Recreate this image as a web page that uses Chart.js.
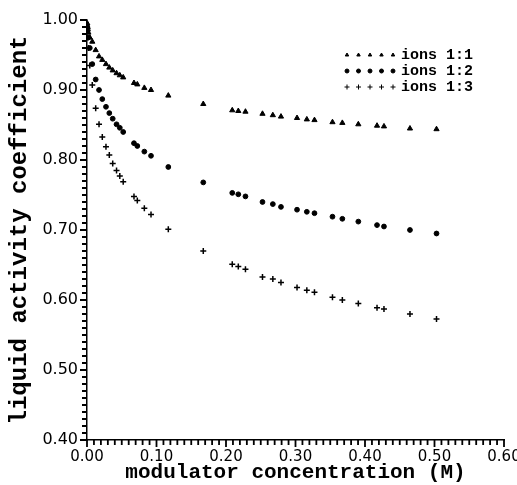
<!DOCTYPE html>
<html>
<head>
<meta charset="utf-8">
<script src="https://cdn.jsdelivr.net/npm/chart.js@4.4.1/dist/chart.umd.min.js"></script>
<style>
  html, body { margin: 0; padding: 0; background: #fff; }
  #wrap { width: 517px; height: 485px; }
</style>
</head>
<body>
<div id="wrap"><canvas id="activityChart" width="517" height="485"></canvas></div>
<script>
// modulator concentration (M), shared by the three series
const concentration = [
  0.0005, 0.001, 0.002, 0.004, 0.0076, 0.0125, 0.0173, 0.022, 0.0273, 0.0321,
  0.037, 0.0425, 0.0472, 0.0521, 0.0676, 0.0724, 0.0825, 0.0921, 0.117, 0.1673,
  0.209, 0.2177, 0.228, 0.2525, 0.2674, 0.2791, 0.3022, 0.3163, 0.3273, 0.3532,
  0.3674, 0.3904, 0.4173, 0.4273, 0.4647, 0.5029
];

const ions11 = [
  0.995, 0.99, 0.982, 0.975, 0.969, 0.957, 0.948, 0.943, 0.937, 0.932,
  0.928, 0.924, 0.921, 0.918, 0.910, 0.908, 0.903, 0.900, 0.892, 0.880,
  0.871, 0.870, 0.869, 0.866, 0.864, 0.862, 0.860, 0.858, 0.857, 0.854,
  0.853, 0.851, 0.849, 0.848, 0.845, 0.844
];

const ions12 = [
  0.99, 0.985, 0.975, 0.96, 0.937, 0.915, 0.900, 0.887, 0.876, 0.867,
  0.859, 0.851, 0.846, 0.840, 0.824, 0.820, 0.812, 0.806, 0.790, 0.768,
  0.753, 0.751, 0.748, 0.740, 0.737, 0.733, 0.729, 0.726, 0.724, 0.719,
  0.716, 0.712, 0.707, 0.705, 0.700, 0.695
];

const ions13 = [
  0.985, 0.975, 0.96, 0.935, 0.907, 0.874, 0.851, 0.833, 0.819, 0.807,
  0.795, 0.785, 0.777, 0.769, 0.748, 0.742, 0.731, 0.722, 0.701, 0.670,
  0.651, 0.648, 0.644, 0.633, 0.630, 0.625, 0.618, 0.614, 0.611, 0.604,
  0.600, 0.595, 0.589, 0.587, 0.580, 0.573
];

const seriesLabels = ["ions 1:1", "ions 1:2", "ions 1:3"];
const xTitle = "modulator concentration (M)";
const yTitle = "liquid activity coefficient";

const toPoints = (ys) => ys.map((y, i) => ({ x: concentration[i], y: y }));

const isMajor = (v) => Math.abs(v * 10 - Math.round(v * 10)) < 1e-6;

// outward tick marks every 0.01, a bit longer on the labelled ones
const tickMarks = {
  id: "tickMarks",
  afterDraw(chart) {
    const { ctx, chartArea, scales } = chart;
    ctx.save();
    ctx.strokeStyle = "#000";
    ctx.lineWidth = 1.8;
    ctx.beginPath();
    scales.x.ticks.forEach((t) => {
      const px = scales.x.getPixelForValue(t.value);
      const len = isMajor(t.value) ? 7 : 5;
      ctx.moveTo(px, chartArea.bottom);
      ctx.lineTo(px, chartArea.bottom + len);
    });
    scales.y.ticks.forEach((t) => {
      const py = scales.y.getPixelForValue(t.value);
      const len = isMajor(t.value) ? 7 : 5;
      ctx.moveTo(chartArea.left, py);
      ctx.lineTo(chartArea.left - len, py);
    });
    ctx.stroke();
    ctx.restore();
  }
};

// five sample markers in front of each legend label, like the original
const markerLegend = {
  id: "markerLegend",
  afterDatasetsDraw(chart) {
    const { ctx, chartArea } = chart;
    ctx.save();
    chart.data.datasets.forEach((ds, i) => {
      const y = chartArea.top + 35 + i * 16;
      ctx.fillStyle = "#000";
      ctx.strokeStyle = "#000";
      for (let k = 0; k < 5; k++) {
        Chart.helpers.drawPoint(ctx, {
          pointStyle: ds.pointStyle,
          radius: ds.pointStyle === "cross" ? 2.5 : 2,
          borderWidth: ds.pointStyle === "cross" ? 1.2 : 1,
          rotation: 0
        }, chartArea.right - 157 + k * 11.5, y);
      }
      ctx.font = "bold 15px 'Liberation Mono', monospace";
      ctx.textBaseline = "middle";
      ctx.textAlign = "left";
      ctx.fillText(ds.label, chartArea.right - 103, y);
    });
    ctx.restore();
  }
};

const ctx = document.getElementById("activityChart").getContext("2d");

new Chart(ctx, {
  type: "scatter",
  data: {
    datasets: [
      {
        label: seriesLabels[0],
        data: toPoints(ions11),
        pointStyle: "triangle",
        pointRadius: 3,
        backgroundColor: "#000",
        borderColor: "#000",
        borderWidth: 1
      },
      {
        label: seriesLabels[1],
        data: toPoints(ions12),
        pointStyle: "circle",
        pointRadius: 2.4,
        backgroundColor: "#000",
        borderColor: "#000",
        borderWidth: 1
      },
      {
        label: seriesLabels[2],
        data: toPoints(ions13),
        pointStyle: "cross",
        pointRadius: 3,
        backgroundColor: "#000",
        borderColor: "#000",
        borderWidth: 1.5
      }
    ]
  },
  options: {
    responsive: false,
    animation: false,
    layout: { padding: { top: 20, right: 13, bottom: 0, left: 0 } },
    plugins: {
      legend: { display: false },
      tooltip: { enabled: false }
    },
    scales: {
      x: {
        type: "linear",
        min: 0,
        max: 0.6,
        afterFit: (scale) => {
          scale.height = 45;
          scale.paddingLeft = 0;
          scale.paddingRight = 0;
        },
        border: { display: true, color: "#000", width: 1.5 },
        grid: { display: false, drawTicks: false },
        ticks: {
          stepSize: 0.01,
          maxTicksLimit: 100,
          autoSkip: false,
          maxRotation: 0,
          minRotation: 0,
          padding: 8,
          color: "#000",
          font: { family: "'DejaVu Sans', sans-serif", size: 15 },
          callback: (v) => (isMajor(v) ? v.toFixed(2) : "")
        },
        title: {
          display: true,
          text: xTitle,
          color: "#000",
          font: { family: "'Liberation Mono', monospace", size: 21, weight: "bold" },
          padding: { top: 0, bottom: 0 }
        }
      },
      y: {
        type: "linear",
        min: 0.4,
        max: 1.0,
        afterFit: (scale) => {
          scale.width = 87;
          scale.paddingTop = 0;
          scale.paddingBottom = 0;
        },
        border: { display: true, color: "#000", width: 1.5 },
        grid: { display: false, drawTicks: false },
        ticks: {
          stepSize: 0.01,
          maxTicksLimit: 100,
          autoSkip: false,
          padding: 9,
          color: "#000",
          font: { family: "'DejaVu Sans', sans-serif", size: 16 },
          callback: (v) => (isMajor(v) ? v.toFixed(2) : "")
        },
        title: {
          display: true,
          text: yTitle,
          color: "#000",
          font: { family: "'Liberation Mono', monospace", size: 24, weight: "bold" },
          padding: { top: 6, bottom: 0 }
        }
      }
    }
  },
  plugins: [markerLegend, tickMarks]
});
</script>
</body>
</html>
